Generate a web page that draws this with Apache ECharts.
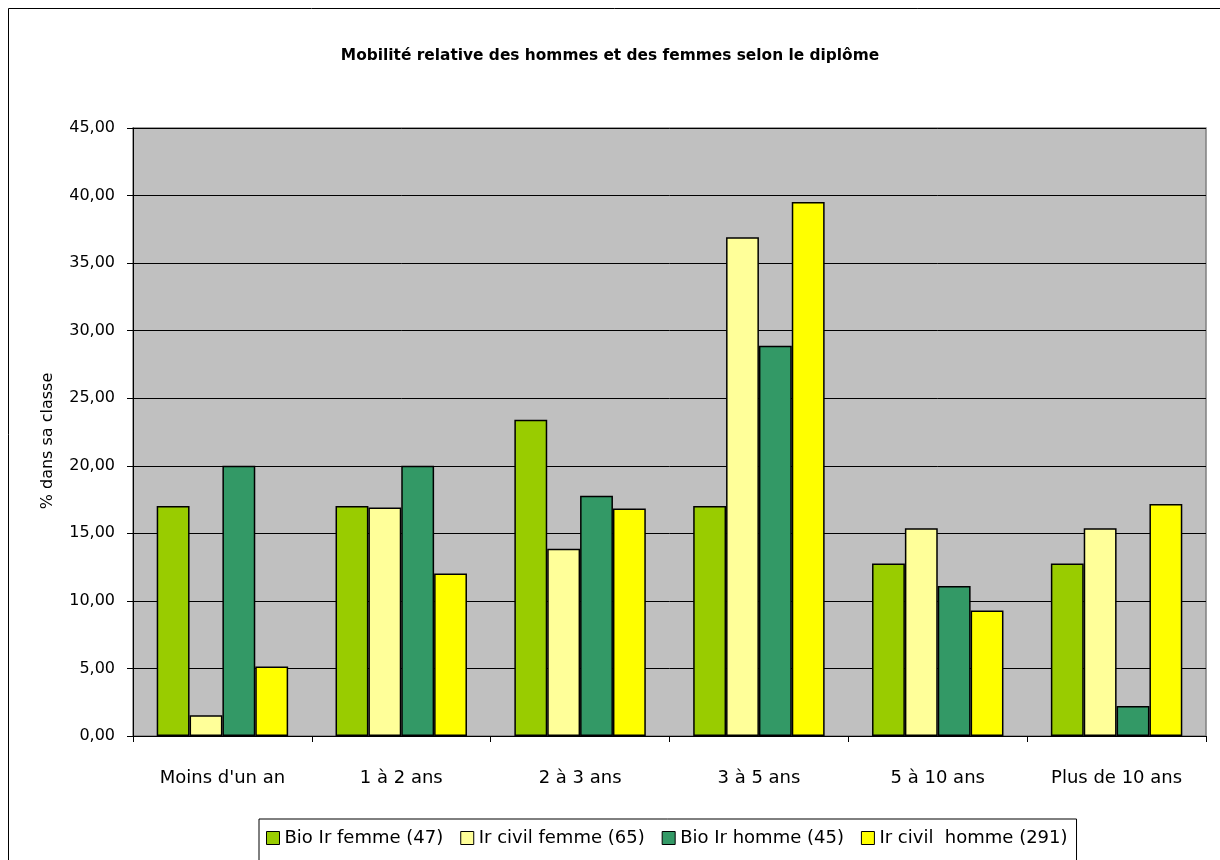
<!DOCTYPE html>
<html>
<head>
<meta charset="utf-8">
<script src="https://cdn.jsdelivr.net/npm/echarts@6/dist/echarts.min.js"></script>
<style>
html,body{margin:0;padding:0;background:#fff;}
#chart{width:1220px;height:860px;}
</style>
</head>
<body>
<div id="chart"></div>
<script>
const categories = ["Moins d'un an", "1 à 2 ans", "2 à 3 ans", "3 à 5 ans", "5 à 10 ans", "Plus de 10 ans"];
const seriesNames = ["Bio Ir femme (47)", "Ir civil femme (65)", "Bio Ir homme (45)", "Ir civil  homme (291)"];
const bioFemme = [17.02, 17.02, 23.40, 17.02, 12.77, 12.77];
const civilFemme = [1.54, 16.92, 13.85, 36.92, 15.38, 15.38];
const bioHomme = [20.00, 20.00, 17.78, 28.89, 11.11, 2.22];
const civilHomme = [5.15, 12.03, 16.84, 39.52, 9.28, 17.18];
const colors = ["#99cc00", "#ffff99", "#339966", "#ffff00"];
const yTicks = [0, 5, 10, 15, 20, 25, 30, 35, 40, 45];

const FONT = "'DejaVu Sans', sans-serif";
const chart = echarts.init(document.getElementById('chart'), null, {renderer: 'canvas'});
const dataSets = [bioFemme, civilFemme, bioHomme, civilHomme];

chart.setOption({
  animation: false,
  backgroundColor: '#ffffff',
  title: {
    text: 'Mobilité relative des hommes et des femmes selon le diplôme',
    left: 'center',
    top: 43,
    textStyle: {fontFamily: FONT, fontSize: 15.4, fontWeight: 'bold', color: '#000'}
  },
  graphic: [{
    type: 'rect',
    shape: {x: 8.5, y: 8.5, width: 1240, height: 900},
    style: {fill: 'none', stroke: '#000', lineWidth: 1},
    silent: true, z: -1
  }],
  legend: {
    left: 259,
    top: 819,
    data: seriesNames,
    orient: 'horizontal',
    icon: 'rect',
    itemWidth: 13,
    itemHeight: 13,
    itemGap: 17,
    padding: [10, 9, 20, 7],
    borderColor: '#000',
    borderWidth: 1,
    backgroundColor: '#fff',
    itemStyle: {borderColor: '#000', borderWidth: 1},
    textStyle: {fontFamily: FONT, fontSize: 18, color: '#000'}
  },
  grid: {
    left: 133, right: 14, top: 128, bottom: 124,
    show: true,
    backgroundColor: '#c0c0c0',
    borderColor: '#808080',
    borderWidth: 1.5
  },
  xAxis: {
    type: 'category',
    data: categories,
    boundaryGap: true,
    axisLine: {lineStyle: {color: '#000', width: 1}},
    axisTick: {show: true, interval: 0, length: 6, lineStyle: {color: '#000'}},
    axisLabel: {interval: 0, margin: 33, fontFamily: FONT, fontSize: 18, color: '#000'}
  },
  yAxis: {
    type: 'value',
    min: yTicks[0],
    max: yTicks[yTicks.length - 1],
    interval: 5,
    name: '% dans sa classe',
    nameLocation: 'middle',
    nameRotate: 90,
    nameGap: 77,
    nameTextStyle: {fontFamily: FONT, fontSize: 16, color: '#000', padding: [0, 18, 0, 0]},
    axisLine: {show: true, lineStyle: {color: '#000', width: 1}},
    axisTick: {show: true, length: 6, lineStyle: {color: '#000'}},
    axisLabel: {margin: 18, fontFamily: FONT, fontSize: 16, color: '#000',
      formatter: v => v.toFixed(2).replace('.', ',')},
    splitLine: {show: true, lineStyle: {color: '#000', width: 1}}
  },
  series: seriesNames.map((n, i) => ({
    name: n,
    type: 'bar',
    data: dataSets[i],
    barGap: '0%',
    barCategoryGap: '26.5%',
    itemStyle: {color: colors[i], borderColor: '#000', borderWidth: 1.5}
  }))
});
</script>
</body>
</html>
